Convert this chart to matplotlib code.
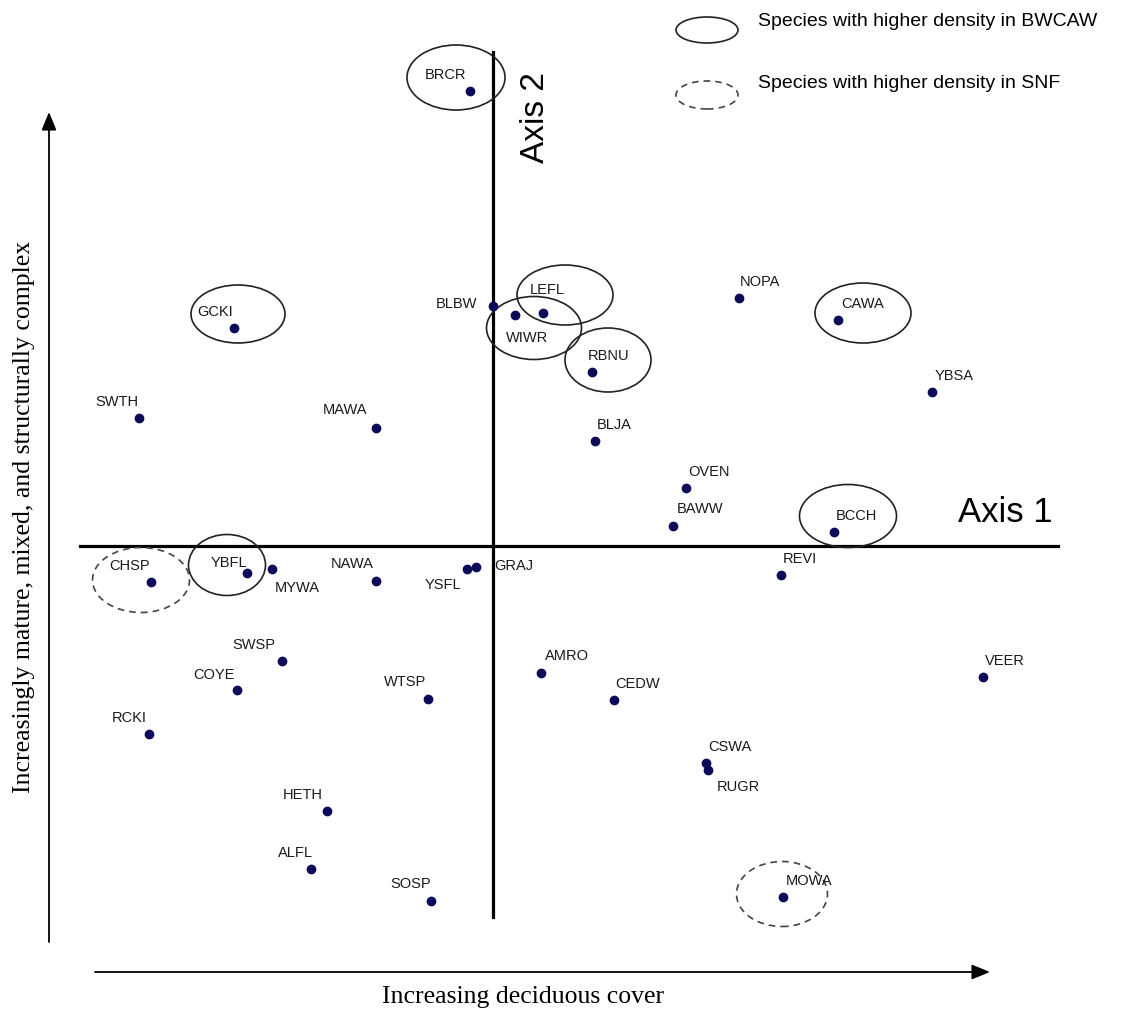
import matplotlib.pyplot as plt
from matplotlib.patches import Ellipse

# species scores on the two ordination axes
species = ["BRCR", "GCKI", "BLBW", "LEFL", "WIWR", "RBNU", "NOPA", "CAWA", "YBSA",
           "SWTH", "MAWA", "BLJA", "OVEN", "BAWW", "BCCH", "REVI", "CHSP", "YBFL",
           "MYWA", "NAWA", "YSFL", "GRAJ", "SWSP", "COYE", "RCKI", "WTSP", "HETH",
           "ALFL", "SOSP", "AMRO", "CEDW", "CSWA", "RUGR", "VEER", "MOWA"]
axis1 = [-0.23, -2.59, 0.00, 0.50, 0.22, 0.99, 2.46, 3.45, 4.39,
         -3.54, -1.17, 1.02, 1.93, 1.80, 3.41, 2.88, -3.42, -2.46,
         -2.21, -1.17, -0.26, -0.17, -2.11, -2.56, -3.44, -0.65, -1.66,
         -1.82, -0.62, 0.48, 1.21, 2.13, 2.15, 4.90, 2.90]
axis2 = [4.55, 2.18, 2.40, 2.33, 2.31, 1.74, 2.48, 2.26, 1.54,
         1.28, 1.18, 1.05, 0.58, 0.20, 0.14, -0.29, -0.36, -0.27,
         -0.23, -0.35, -0.23, -0.21, -1.15, -1.44, -1.88, -1.53, -2.65,
         -3.23, -3.55, -1.27, -1.54, -2.17, -2.24, -1.31, -3.51]

higher_bwcaw = ["BRCR", "GCKI", "LEFL", "WIWR", "RBNU", "CAWA", "BCCH", "YBFL"]
higher_snf = ["CHSP", "MOWA"]

# label offsets (pixels) from each dot
label_off = {
    "BRCR": (-24, 16), "GCKI": (-19, 16), "BLBW": (-37, 2), "LEFL": (4, 23),
    "WIWR": (12, -23), "RBNU": (17, 16), "NOPA": (21, 16), "CAWA": (25, 16),
    "YBSA": (22, 16), "SWTH": (-22, 16), "MAWA": (-31, 18), "BLJA": (19, 16),
    "OVEN": (23, 16), "BAWW": (27, 17), "BCCH": (22, 16), "REVI": (19, 16),
    "CHSP": (-21, 16), "YBFL": (-18, 10), "MYWA": (25, -19), "NAWA": (-24, 17),
    "YSFL": (-24, -16), "GRAJ": (38, 1), "SWSP": (-28, 16), "COYE": (-23, 15),
    "RCKI": (-20, 16), "WTSP": (-23, 17), "HETH": (-24, 16), "ALFL": (-16, 16),
    "SOSP": (-20, 17), "AMRO": (26, 17), "CEDW": (24, 16), "CSWA": (24, 16),
    "RUGR": (30, -17), "VEER": (22, 16), "MOWA": (26, 16),
}
# ellipses drawn round the species: centre, width, height
ell_geom = {
    "BRCR": (-0.37, 4.685, 0.98, 0.65), "GCKI": (-2.55, 2.32, 0.94, 0.58),
    "LEFL": (0.72, 2.51, 0.96, 0.60), "WIWR": (0.41, 2.18, 0.95, 0.63),
    "RBNU": (1.15, 1.86, 0.86, 0.64), "CAWA": (3.70, 2.33, 0.96, 0.60),
    "BCCH": (3.55, 0.30, 0.97, 0.63), "YBFL": (-2.66, -0.19, 0.77, 0.61),
    "CHSP": (-3.52, -0.34, 0.97, 0.65), "MOWA": (2.89, -3.48, 0.91, 0.65),
}

lab_font = "Liberation Sans"
serif = "Liberation Serif"

fig = plt.figure(figsize=(11.31, 10.13), dpi=100)
ax = fig.add_axes([0, 0, 1, 1])
ax.set_xlim(-4.93, 6.38)
ax.set_ylim(-4.67, 5.46)
ax.axis("off")

# ordination axes
ax.plot([-4.13, 5.65], [0, 0], color="black", lw=2.3, zorder=1)
ax.plot([0, 0], [-3.71, 4.94], color="black", lw=2.3, zorder=1)
ax.text(5.12, 0.34, "Axis 1", fontsize=25, family=lab_font, ha="center", va="center")
ax.text(0.43, 4.28, "Axis 2", fontsize=24, family=lab_font, ha="center", va="center",
        rotation=90)

# outer gradient arrows
arrow = dict(arrowstyle="-|>,head_length=1.1,head_width=0.45", color="black", lw=1.3,
             shrinkA=0, shrinkB=0)
ax.annotate("", xy=(-4.44, 4.34), xytext=(-4.44, -3.96), arrowprops=arrow)
ax.annotate("", xy=(4.97, -4.26), xytext=(-3.98, -4.26), arrowprops=arrow)
ax.text(0.30, -4.51, "Increasing deciduous cover", fontsize=18.5, family=serif,
        ha="center", va="center")
ax.text(-4.69, 0.29, "Increasingly mature, mixed, and structurally complex", fontsize=18.5,
        family=serif, ha="center", va="center", rotation=90)

# species points
ax.plot(axis1, axis2, "o", color="#0b0b5a", ms=6, zorder=3, ls="none")
for name, x, y in zip(species, axis1, axis2):
    dx, dy = label_off[name]
    ax.annotate(name, (x, y), xytext=(dx, dy), textcoords="offset pixels",
                ha="center", va="center", fontsize=10.5, family=lab_font, color="#1a1a1a")

for name in higher_bwcaw:
    cx, cy, w, h = ell_geom[name]
    ax.add_patch(Ellipse((cx, cy), w, h, fill=False, ec="#222222", lw=1.2, zorder=2))
for name in higher_snf:
    cx, cy, w, h = ell_geom[name]
    ax.add_patch(Ellipse((cx, cy), w, h, fill=False, ec="#444444", lw=1.2, ls=(0, (4, 3)),
                         zorder=2))

# legend
ax.add_patch(Ellipse((2.14, 5.16), 0.62, 0.26, fill=False, ec="#222222", lw=1.2))
ax.add_patch(Ellipse((2.14, 4.51), 0.62, 0.28, fill=False, ec="#444444", lw=1.2,
                     ls=(0, (4, 3))))
ax.text(2.65, 5.24, "Species with higher density in BWCAW", fontsize=14, family=lab_font,
        ha="left", va="center")
ax.text(2.65, 4.62, "Species with higher density in SNF", fontsize=14, family=lab_font,
        ha="left", va="center")

plt.savefig("out.png", dpi=100)
